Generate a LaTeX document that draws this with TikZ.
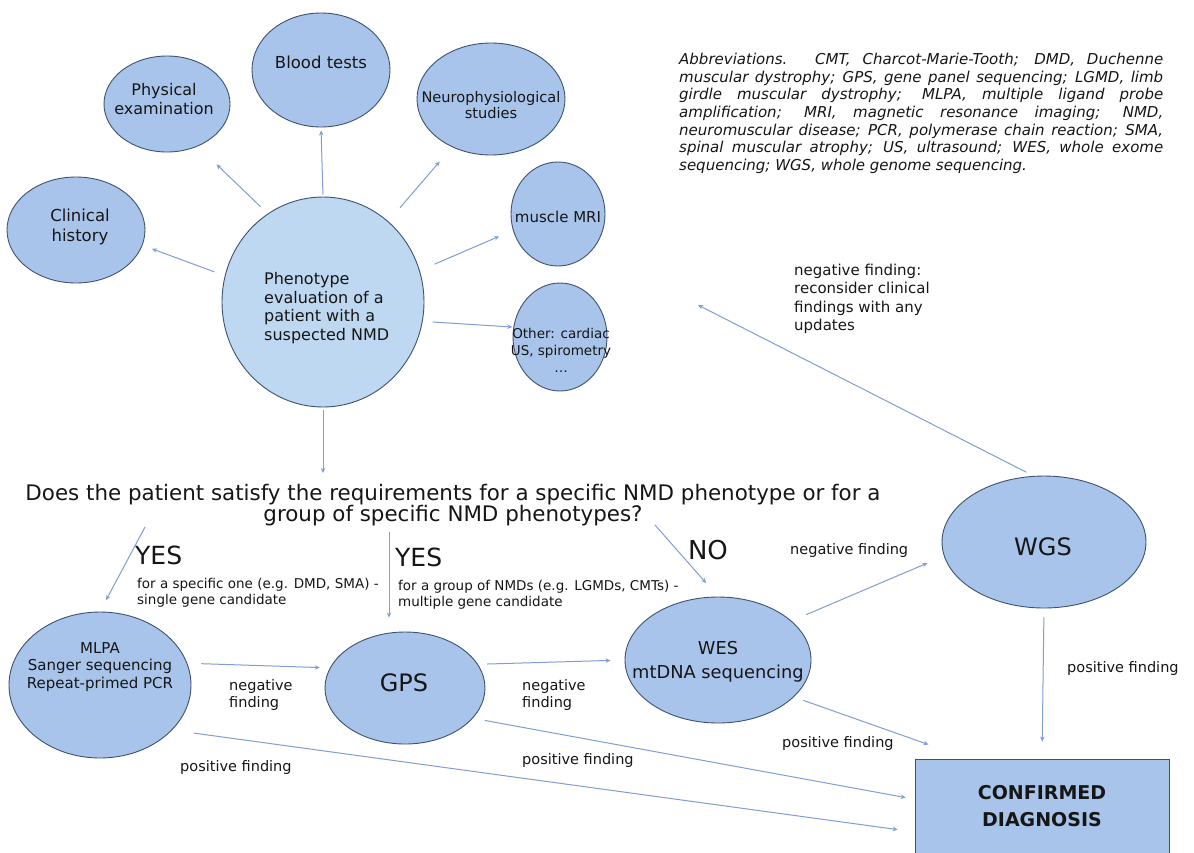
\documentclass[tikz,border=0pt]{standalone}
\usepackage{fontspec}
\setmainfont{DejaVu Sans}
\usetikzlibrary{shapes.geometric,arrows.meta,calc}
\definecolor{bubfill}{RGB}{168,196,234}
\definecolor{phenofill}{RGB}{190,216,241}
\definecolor{bubline}{RGB}{62,82,112}
\definecolor{arrc}{RGB}{128,158,208}
\definecolor{txt}{RGB}{22,22,22}
\newcommand\myfs[2]{\fontsize{#1}{#2}\selectfont}
\tikzset{
  bub/.style 2 args={ellipse, draw=bubline, fill=bubfill, line width=0.9pt, inner sep=0pt, minimum width=#1pt, minimum height=#2pt},
  arr/.style={draw=arrc, line width=1pt, -{Stealth[length=5pt,width=4.5pt]}},
  lbl/.style={inner sep=0pt, align=center, text=txt},
  lbll/.style={inner sep=0pt, align=left, text=txt},
  edgelbl/.style={lbll, anchor=west, font=\myfs{14.5}{17}},
}
\begin{document}
\begin{tikzpicture}[x=1pt,y=-1pt]
\useasboundingbox (0,0) rectangle (1194,852);
\clip (0,0) rectangle (1194,852);
\fill[white] (0,0) rectangle (1194,852);

% bubbles
\node[bub={138}{106}] (clin) at (76,230) {};
\node[bub={126}{96}] (phys) at (167,104) {};
\node[bub={138}{114}] (blood) at (321,70) {};
\node[bub={148}{112}] (neuro) at (491,99) {};
\node[bub={94}{104}] (mri) at (558,214) {};
\node[bub={94}{108}] (other) at (560,337) {};
\node[bub={202}{210}, fill=phenofill] (pheno) at (323,302) {};

\node[bub={182}{146}] (mlpa) at (100,685) {};
\node[bub={160}{112}] (gps) at (405,688) {};
\node[bub={186}{126}] (wes) at (718,660) {};
\node[bub={204}{132}] (wgs) at (1044,542) {};
\node[rectangle, draw=bubline, fill=bubfill, line width=0.9pt, minimum width=254pt, minimum height=112pt, inner sep=0pt] (conf) at (1042,815) {};

% bubble texts
\node[lbl, font=\myfs{16.5}{20}] (clinT) at (80,227) {Clinical\\history};
\node[lbl, font=\myfs{16}{18.5}] (physT) at (164,99) {Physical\\examination};
\node[lbl, font=\myfs{16.5}{18}] (bloodT) at (321,62) {Blood tests};
\node[lbl, font=\myfs{14.6}{16.5}] (neuroT) at (491,105) {Neurophysiological\\studies};
\node[lbl, font=\myfs{15}{18}] (mriT) at (558,217) {muscle MRI};
\node[lbl, font=\myfs{13.5}{17}] (otherT) at (561,350) {Other: cardiac\\US, spirometry\\\dots};
\node[lbll, font=\myfs{16}{18.5}, anchor=west] (phenoT) at (264,308) {Phenotype\\evaluation of a\\patient with a\\suspected NMD};

\node[lbl, font=\myfs{15}{17.5}] (mlpaT) at (100,667) {MLPA\\Sanger sequencing\\Repeat-primed PCR};
\node[lbl, font=\myfs{24}{26}] (gpsT) at (404,683) {GPS};
\node[lbl, font=\myfs{17.8}{24}] (wesT) at (718,662) {WES\\mtDNA sequencing};
\node[lbl, font=\myfs{24}{26}] (wgsT) at (1043,547) {WGS};
\node[lbl, font=\myfs{19}{27}\bfseries] (confT) at (1042,806) {CONFIRMED\\DIAGNOSIS};

% question and answers
\node[lbl, font=\myfs{21.4}{21}] (question) at (453,505) {Does the patient satisfy the requirements for a specific NMD phenotype or for a\\group of specific NMD phenotypes?};
\node[lbll, font=\myfs{25}{26}, anchor=west] (yes1) at (135,555) {YES};
\node[lbll, font=\myfs{13.5}{15.5}, anchor=west] (yes1T) at (137,593) {for a specific one (e.g. DMD, SMA) -\\single gene candidate};
\node[lbll, font=\myfs{25}{26}, anchor=west] (yes2) at (395,557) {YES};
\node[lbll, font=\myfs{13.5}{15.5}, anchor=west] (yes2T) at (398,595) {for a group of NMDs (e.g. LGMDs, CMTs) -\\multiple gene candidate};
\node[lbl, font=\myfs{26}{26}] (no) at (708,550) {NO};

% edge labels
\node[edgelbl] (neg1) at (229,695) {negative\\finding};
\node[edgelbl] (neg2) at (522,695) {negative\\finding};
\node[edgelbl] (neg3) at (790,550) {negative finding};
\node[edgelbl] (pos1) at (1067,668) {positive finding};
\node[edgelbl] (pos2) at (782,743) {positive finding};
\node[edgelbl] (pos3) at (522,760) {positive finding};
\node[edgelbl] (pos4) at (180,767) {positive finding};
\node[lbll, font=\myfs{15}{18.4}, anchor=west] (recons) at (794,299) {negative finding:\\reconsider clinical\\findings with any\\updates};

% abbreviations
\node[lbll, font=\myfs{15}{17.6}\itshape, anchor=north west] (abbr) at (679,53) {%
\makebox[484pt][s]{Abbreviations. CMT, Charcot-Marie-Tooth; DMD, Duchenne}\\
\makebox[484pt][s]{muscular dystrophy; GPS, gene panel sequencing; LGMD, limb}\\
\makebox[484pt][s]{girdle muscular dystrophy; MLPA, multiple ligand probe}\\
\makebox[484pt][s]{amplification; MRI, magnetic resonance imaging; NMD,}\\
\makebox[484pt][s]{neuromuscular disease; PCR, polymerase chain reaction; SMA,}\\
\makebox[484pt][s]{spinal muscular atrophy; US, ultrasound; WES, whole exome}\\
sequencing; WGS, whole genome sequencing.};

% free-end coordinates
\coordinate (qL) at (145,527);
\coordinate (qM) at (389,532);
\coordinate (qR) at (655,525);
\coordinate (back) at (698,305);

% arrows from phenotype
\draw[arr, shorten <=11pt, shorten >=10pt] (pheno.165) -- (clin.-13);
\draw[arr, shorten <=10pt, shorten >=26pt] (pheno.122) -- (phys.-54);
\draw[arr, shorten <=2pt, shorten >=3pt] (pheno.north) -- (blood.south);
\draw[arr, shorten <=18pt, shorten >=19pt] (pheno.51) -- (neuro.231);
\draw[arr, shorten <=16pt, shorten >=15pt] (pheno.18) -- (mri.200);
\draw[arr, shorten <=10pt, shorten >=1pt] (pheno.-11) -- (other.168);
\draw[arr, shorten <=3pt, shorten >=11pt] (pheno.south) -- (pheno.south |- question.north);

% answers
\draw[arr, shorten >=13pt] (qL) -- (mlpa.north);
\draw[arr, shorten >=14pt] (qM) -- (qM |- gps.north);
\draw[arr, shorten >=18pt] (qR) -- (wes.north);

% test chain
\draw[arr, shorten <=14pt, shorten >=10pt] (mlpa.14) -- (gps.165);
\draw[arr, shorten <=9pt, shorten >=14pt] (gps.18) -- (wes.180);
\draw[arr, shorten <=16pt, shorten >=18pt] (wes.28) -- (wgs.188);
\draw[arr, shorten <=9pt, shorten >=17pt] (wgs.south) -- (conf.north);
\draw[arr, shorten <=10pt, shorten >=42pt] (wes.-26) -- ($(conf.north west)!0.21!(conf.north east)$);
\draw[arr, shorten <=12pt, shorten >=9pt] (gps.-24) -- ($(conf.north west)!0.36!(conf.south west)$);
\draw[arr, shorten <=22pt, shorten >=17pt] (mlpa.-32) -- ($(conf.north west)!0.65!(conf.south west)$);
\draw[arr, shorten <=8pt] (wgs.99) -- (back);
\end{tikzpicture}
\end{document}
